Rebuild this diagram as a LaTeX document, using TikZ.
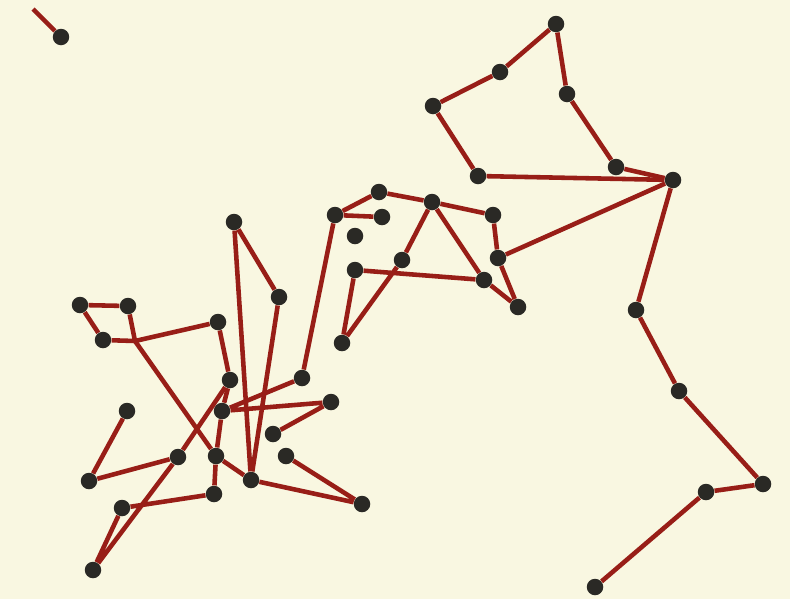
\documentclass[tikz,border=0pt]{standalone}
\definecolor{rost}{HTML}{981E17}
\definecolor{punkt}{HTML}{2A2925}
\definecolor{papier}{HTML}{F9F7E1}

\begin{document}
\begin{tikzpicture}[x=0.02cm,y=-0.02cm,
  pkt/.style={circle,fill=punkt,inner sep=0pt,minimum size=0.33cm},
  kante/.style={rost,line width=2.6pt,line join=round}]
  \fill[papier] (0,0) rectangle (790,599);
  \node[pkt] (a1) at (61,37) {};
  \node[pkt] (t1) at (556,24) {};  \node[pkt] (t2) at (500,72) {};
  \node[pkt] (t3) at (433,106) {}; \node[pkt] (t4) at (567,94) {};
  \node[pkt] (t5) at (478,176) {}; \node[pkt] (t6) at (616,167) {};
  \node[pkt] (t7) at (673,180) {};
  \node[pkt] (r1) at (636,310) {}; \node[pkt] (r2) at (679,391) {};
  \node[pkt] (r3) at (763,484) {}; \node[pkt] (r4) at (706,492) {};
  \node[pkt] (r5) at (595,587) {};
  \node[pkt] (m1) at (379,192) {}; \node[pkt] (m2) at (432,202) {};
  \node[pkt] (m3) at (335,215) {}; \node[pkt] (m4) at (382,217) {};
  \node[pkt] (m5) at (355,236) {}; \node[pkt] (m6) at (493,215) {};
  \node[pkt] (m7) at (498,258) {}; \node[pkt] (m8) at (402,260) {};
  \node[pkt] (m9) at (355,270) {}; \node[pkt] (m10) at (484,280) {};
  \node[pkt] (m11) at (518,307) {}; \node[pkt] (m12) at (342,343) {};
  \node[pkt] (l1) at (234,222) {};  \node[pkt] (l2) at (279,297) {};
  \node[pkt] (l3) at (80,305) {};   \node[pkt] (l4) at (128,306) {};
  \node[pkt] (l5) at (103,340) {};  \node[pkt] (l6) at (218,322) {};
  \node[pkt] (l7) at (230,380) {};  \node[pkt] (l8) at (302,378) {};
  \node[pkt] (l9) at (331,402) {};  \node[pkt] (l10) at (222,411) {};
  \node[pkt] (l11) at (127,411) {}; \node[pkt] (l12) at (273,434) {};
  \node[pkt] (l13) at (286,456) {}; \node[pkt] (l14) at (178,457) {};
  \node[pkt] (l15) at (216,456) {}; \node[pkt] (l16) at (89,481) {};
  \node[pkt] (l17) at (251,480) {}; \node[pkt] (l18) at (214,494) {};
  \node[pkt] (l19) at (122,508) {}; \node[pkt] (l20) at (362,504) {};
  \node[pkt] (l21) at (93,570) {};
  \coordinate (a0) at (33,9);
  \coordinate (knick) at (135,341);
  \draw[kante] (a0)--(a1);
  \draw[kante] (t1)--(t2)--(t3)--(t5)--(t7);
  \draw[kante] (t1)--(t4)--(t6)--(t7);
  \draw[kante] (m7)--(t7)--(r1)--(r2)--(r3)--(r4)--(r5);
  \draw[kante] (m4)--(m3)--(m1)--(m2)--(m6)--(m7)--(m11)--(m10)--(m2);
  \draw[kante] (m2)--(m8)--(m12)--(m9)--(m10);
  \draw[kante] (m3)--(l8)--(l10)--(l9)--(l12);
  \draw[kante] (l1)--(l2)--(l17)--(l1);
  \draw[kante] (l13)--(l20)--(l17)--(l15)--(l18)--(l19)--(l21)--(l14)--(l16)--(l11);
  \draw[kante] (l6)--(l7)--(l14);
  \draw[kante] (l7)--(l10)--(l15);
  \draw[kante] (l4)--(l3)--(l5);
  \draw[kante] (l4)--(knick)--(l15);
  \draw[kante] (l5)--(knick)--(l6);
\end{tikzpicture}
\end{document}
